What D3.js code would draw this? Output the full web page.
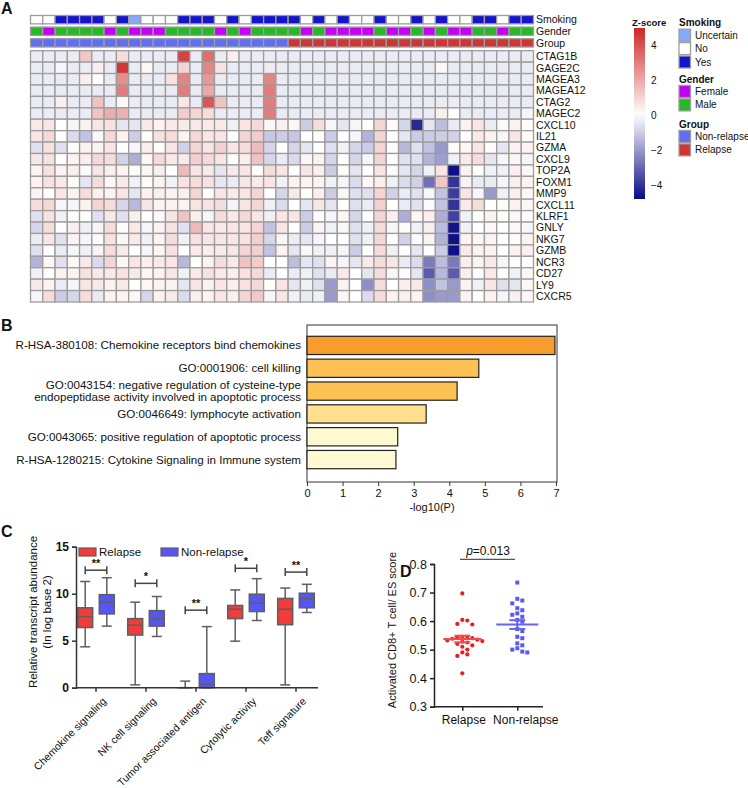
<!DOCTYPE html>
<html>
<head>
<meta charset="utf-8">
<script src="https://cdn.jsdelivr.net/npm/d3@7"></script>
<style>
  body { margin: 0; background: #fff; }
  text { font-family: "Liberation Sans", Arial, Helvetica, sans-serif; fill: #111; }
</style>
</head>
<body>
<div id="fig"></div>
<script>
// ---------- panel A data ----------
const genes = ["CTAG1B","GAGE2C","MAGEA3","MAGEA12","CTAG2","MAGEC2","CXCL10","IL21","GZMA","CXCL9",
  "TOP2A","FOXM1","MMP9","CXCL11","KLRF1","GNLY","NKG7","GZMB","NCR3","CD27","LY9","CXCR5"];
const annoNames = ["Smoking","Gender","Group"];
const smokingLevels = ["Uncertain","No","Yes"];
const genderLevels = ["Female","Male"];
const groupLevels = ["Non-relapse","Relapse"];
// one letter per sample (41 samples)
const smoking = "NNYYYYNYUNNNYYYNYNYYYYNYNYNNYNNYNYNNYYNYY".split("").map(c => ({N:"No",Y:"Yes",U:"Uncertain"})[c]);
const gender  = "MFMMMMFMFFFMMMMFMFMMMMFMFFFFMFFMFMFFMMFMM".split("").map(c => c === "F" ? "Female" : "Male");
const group   = "NNNNNNNNNNNNNNNNNNNNNRRRRRRRRRRRRRRRRRRRR".split("").map(c => c === "N" ? "Non-relapse" : "Relapse");

// z-scores, one row per gene, 41 samples
const zRows = [
  [-.4,-.4,-.4,-.4,1.3,-.4,-.4,.8,-.4,-.4, -.4,-.4,4.3,-.4,3.3,-.4,.4,-.4,-.4,-.4, -.4,-.4,-.4,-.4,-.4,-.4,-.4,-.4,-.4,-.4, -.4,-.4,-.4,-.4,-.4,-.4,-.4,-.4,-.4,-.4, -.4],
  [-.4,-.4,-.2,-.4,-.4,.4,-.4,4.6,-.4,.2, -.4,-.4,1.0,-.4,2.8,.7,-.4,-.4,-.4,-.4, -.4,-.4,-.4,-.4,-.4,-.4,-.4,-.4,-.4,-.4, -.4,-.4,-.4,.2,-.4,-.4,-.4,-.4,-.4,-.4, -.4],
  [-.4,-.4,-.4,-.4,.4,0,-.4,2.6,-.4,-.4, -.4,.7,2.8,-.4,2.4,-.4,-.4,-.4,-.4,2.8, -.4,-.4,-.4,-.4,-.4,-.4,-.4,-.4,-.4,-.4, -.4,-.4,-.4,-.4,-.4,-.4,-.4,-.4,-.4,-.4, -.4],
  [-.4,-.4,-.4,-.4,-.4,-.4,-.4,3.0,-.4,-.4, -.4,-.4,3.0,-.4,2.0,-.4,-.4,-.4,-.4,3.0, -.4,-.4,-.4,-.4,-.4,-.4,-.4,-.4,-.4,-.4, -.4,-.4,-.4,-.4,-.4,-.4,-.4,-.4,-.4,-.4, -.4],
  [-.4,-.4,.4,-.4,-.4,1.4,-.4,.2,-.4,-.4, -.4,-.4,.6,-.4,3.9,1.4,-.4,-.4,-.4,3.0, -.4,-.4,-.4,-.4,-.4,-.4,-.4,-.4,-.4,-.4, -.4,-.4,-.4,-.4,-.4,-.4,-.4,-.4,-.4,-.4, -.4],
  [-.4,-.4,-.4,-.4,-.4,1.4,1.9,1.8,-.4,-.4, -.4,-.4,1.2,1.0,.8,-.4,-.4,-.4,-.4,3.0, -.4,-.4,-.4,-.4,-.4,-.4,-.4,-.4,-.4,-.4, -.4,-.4,-.4,.4,0,-.4,-.4,-.4,-.4,-.4, -.2],
  [.5,.6,0,-.2,.3,.6,.7,-.5,-.5,.5, .3,.5,.5,.5,.5,.5,-.3,.6,.9,.2, .4,.2,-1.0,.8,-.2,-.5,-.2,0,1.0,.1, -.8,-4.2,-.5,-1.3,-.4,.3,.6,-.4,-.1,.3, .1],
  [.6,.9,0,-.7,-1.2,.2,.9,.3,-1.0,0, .7,.8,.3,.9,.6,.6,0,1.0,1.2,-1.1, -1.0,-1.1,0,0,-1.0,0,-.2,-1.5,1.0,0, -.5,-1.0,-1.0,-1.0,-.9,0,.5,.3,-.2,.6, .1],
  [-.6,.7,-.6,.1,.3,.3,.6,0,-.2,.4, .1,.6,-.9,1.0,.6,1.1,.6,.8,1.6,-.8, 0,-.8,-.5,0,-.6,-.3,-.8,-1.0,1.0,.1, -1.4,-.6,-1.2,-2.0,.1,.2,.6,.1,-.5,.3, .3],
  [.6,.7,0,.3,.4,.9,.8,-.9,-1.6,.2, .9,.5,.5,1.1,.9,.6,0,.4,1.4,-.8, -.4,-.7,.2,.3,-.8,0,-.8,-.2,1.0,0, -.6,-.6,-1.5,-1.9,-.3,.5,.8,-.5,-.2,.2, -.2],
  [.3,.7,.3,.4,-.1,.6,.4,.3,.1,.2, .4,0,1.6,.6,.5,-.5,.5,.6,0,.8, .6,0,.6,.4,-1.0,.1,-.5,0,.6,.1, -.5,-.8,-.3,.6,-4.7,.3,0,-.3,-.3,.4, .2],
  [.3,.7,.5,.1,-.5,.8,.2,.5,-.3,.1, .3,-.3,.7,.8,.7,-.5,-.4,.6,.5,.6, -.3,.3,.3,.3,-.3,-.2,-.7,.2,.4,-.3, -.7,-.9,-2.8,1.3,-4.0,.3,-.4,-.4,-.2,.4, .3],
  [.3,0,.6,.3,.8,.4,.3,.6,-.5,.3, .4,.3,.4,1.0,0,.6,.5,.6,1.0,0, -.8,.5,0,.4,-1.0,.2,-.6,-.6,1.0,-.9, -.4,-.6,-.2,-1.2,-3.8,.6,-.2,-2.0,-.3,.4, .2],
  [.8,.9,-.2,-.2,.3,1.0,.8,-.8,-1.4,.6, .3,.3,.3,.6,.7,.8,-.2,.6,1.0,-.3, -.7,0,-.5,.6,-.5,0,-.6,-.4,1.1,0, -.4,-.6,-.1,-1.2,-4.0,.5,.8,0,.1,.3, .2],
  [-.6,.7,-.3,.1,0,-.6,.5,-.6,.4,0, -.1,.6,1.4,.4,-.2,.8,.5,.9,.6,-.3, .6,.6,-1.0,0,-.2,.2,-.8,0,1.0,.4, -1.6,.2,.4,-1.6,-3.7,-.3,0,.3,.1,.2, .1],
  [-.8,.8,0,.4,-.3,-.2,.8,.1,.5,-.2, .3,.7,-.6,1.6,.6,.5,.6,.6,1.0,-1.2, .6,0,-1.0,.3,-.3,.2,-.6,-.3,.8,-.2, .1,-.3,.4,-1.3,-4.6,-.3,0,.2,0,.2, -.2],
  [-.4,.6,-.6,.3,-.2,.1,.7,.2,.5,-.3, .3,.8,-.3,.7,.6,.6,.6,.7,1.1,-.8, -.2,-.4,-.5,-.2,0,0,-.6,-.3,.9,0, -.9,-.1,.3,-1.5,-4.7,.3,.2,.3,0,.1, .3],
  [-.6,0,-.4,-.2,-.3,.3,.8,.5,0,-.2, .2,.7,0,.5,.4,.5,.6,1.0,1.1,-1.2, .3,-.5,.2,-.3,-.3,-.2,-1.0,0,.8,-.3, 0,-.5,0,-1.0,-4.7,.5,.3,.3,0,.3, .4],
  [-1.5,.2,-.6,.2,.5,-.7,1.0,.2,.6,.4, .5,.6,-1.4,0,.3,.8,.5,1.4,1.2,0, 0,-1.3,-.5,-.6,.3,-.2,-.5,.5,.8,.6, -.4,-.7,-2.6,-1.3,-2.6,.4,.3,.5,-.2,.1, .1],
  [-.3,0,.3,.3,.7,.5,.5,.7,.5,.2, .3,.6,-.3,.5,.7,.5,.4,.7,.9,-.4, 0,-.4,-.3,-.6,-.4,.5,0,-.5,.8,-.2, .1,-.5,-3.2,-1.4,-3.2,.4,0,.5,.1,-.3, .2],
  [.5,.3,-.4,-.2,.6,.5,.3,.5,0,.2, .3,.3,-.5,.6,.3,.6,.4,.7,.9,0, .6,-.5,-.3,-.6,-2.0,.3,0,-2.2,.8,0, .4,.5,-2.2,-1.2,-2.0,.3,-.3,.6,-.6,-.5, .2],
  [-.2,.8,-1.0,-.8,.8,-.4,.3,.3,.2,-.8, .3,.5,-.7,.4,.3,.6,.4,1.0,1.3,-.2, .6,-.3,-.4,-.3,-2.0,.2,0,-.7,.8,.3, .4,.3,-2.2,-2.0,-2.0,.3,0,.3,-.2,.4, .2]
];

// ---------- panel B data ----------
const terms = [
  "R-HSA-380108: Chemokine receptors bind chemokines",
  "GO:0001906: cell killing",
  "GO:0043154: negative regulation of cysteine-type|endopeptidase activity involved in apoptotic process",
  "GO:0046649: lymphocyte activation",
  "GO:0043065: positive regulation of apoptotic process",
  "R-HSA-1280215: Cytokine Signaling in Immune system"
];
const logP = [6.97, 4.83, 4.22, 3.35, 2.55, 2.5];
const termColors = ["#F89C2E", "#FCC152", "#FCC152", "#FEE08E", "#FEF9D0", "#FEF9D0"];

// ---------- panel C data ----------
const signatures = ["Chemokine signaling","NK cell signaling","Tumor associated antigen","Cytolytic activity","Teff signature"];
// [min, q1, median, q3, max]
const relapseBox    = [[4.35,6.4,7.55,8.5,11.3],[0.3,5.6,6.65,7.35,9.1],[0,0,0,0,0.7],[4.95,7.35,8.35,8.75,10.4],[0.3,6.7,8.35,9.5,10.6]];
const nonRelapseBox = [[6.55,7.85,9.1,9.9,11.7],[5.45,6.55,7.35,8.2,9.7],[0,0,0.35,1.5,6.5],[7.15,8.1,9.0,9.95,11.6],[8.0,8.5,9.5,10.05,11.0]];
const sigStars = ["**","*","**","*","**"];
const sigLevel = [12.5, 11.1, 8.25, 12.7, 12.3];

// ---------- panel D data ----------
const relapseScore = [0.697,0.604,0.602,0.590,0.588,0.545,0.545,0.543,0.540,0.538,0.535,0.532,0.530,
  0.528,0.525,0.520,0.515,0.510,0.500,0.490,0.483,0.478,0.417];
const nonRelapseScore = [0.735,0.678,0.672,0.662,0.645,0.638,0.627,0.622,0.615,0.604,0.598,0.572,0.565,
  0.545,0.540,0.522,0.515,0.505,0.500,0.493,0.490];
const pText = "=0.013";

// =====================================================
const svg = d3.select("#fig").append("svg").attr("width", 748).attr("height", 788);
const defs = svg.append("defs");

// panel letters
[["A",1,14],["B",1,331],["C",1,537],["D",400,577]].forEach(([t,x,y]) =>
  svg.append("text").attr("x",x).attr("y",y).attr("font-size",16).attr("font-weight","bold").text(t));

// ---------- A: heatmap ----------
const hx = d3.scaleBand().domain(d3.range(smoking.length)).range([30.5, 533.5]);
const hy = d3.scaleBand().domain(genes).range([50.7, 302]);
const ay = d3.scaleBand().domain(annoNames).range([15.5, 47]).paddingInner(0.28);
const zColor = d3.scaleLinear().domain([-5, 0, 5]).range(["#000080", "#ffffff", "#cd2626"]);
const annoColor = {
  Smoking: d3.scaleOrdinal().domain(smokingLevels).range(["#86A9F8", "#ffffff", "#1414CC"]),
  Gender:  d3.scaleOrdinal().domain(genderLevels).range(["#C200F2", "#27B827"]),
  Group:   d3.scaleOrdinal().domain(groupLevels).range(["#5E6EF6", "#D23434"])
};
const annoData = { Smoking: smoking, Gender: gender, Group: group };
const gridStroke = "#9d9d9d";

const heat = svg.append("g");
annoNames.forEach(name => {
  heat.append("g").selectAll("rect").data(annoData[name]).join("rect")
    .attr("x", (d, i) => hx(i)).attr("y", ay(name))
    .attr("width", hx.bandwidth()).attr("height", ay.bandwidth())
    .attr("fill", d => annoColor[name](d))
    .attr("stroke", gridStroke).attr("stroke-width", 1.3);
  heat.append("text").attr("x", 536).attr("y", ay(name) + ay.bandwidth() / 2)
    .attr("dy", "0.35em").attr("font-size", 10.5).text(name);
});

const cells = genes.flatMap((g, i) => zRows[i].map((v, j) => ({ g, j, v })));
heat.append("g").selectAll("rect").data(cells).join("rect")
  .attr("x", d => hx(d.j)).attr("y", d => hy(d.g))
  .attr("width", hx.bandwidth()).attr("height", hy.bandwidth())
  .attr("fill", d => zColor(d.v))
  .attr("stroke", gridStroke).attr("stroke-width", 1.3);
heat.append("g").selectAll("text").data(genes).join("text")
  .attr("x", 536).attr("y", d => hy(d) + hy.bandwidth() / 2)
  .attr("dy", "0.35em").attr("font-size", 10.5).text(d => d);

// z-score colour bar
const legTop = 28, legBot = 199;
const ly = d3.scaleLinear().domain([-5, 5]).range([202.5, 27.5]);
const grad = defs.append("linearGradient").attr("id", "zgrad")
  .attr("x1", 0).attr("y1", 0).attr("x2", 0).attr("y2", 1);
d3.range(0, 1.0001, 0.05).forEach(o =>
  grad.append("stop").attr("offset", o).attr("stop-color", zColor(ly.invert(legTop + o * (legBot - legTop)))));
svg.append("text").attr("x", 632).attr("y", 25.5).attr("font-size", 9.5).attr("font-weight", "bold").text("Z-score");
svg.append("rect").attr("x", 634).attr("y", legTop).attr("width", 11).attr("height", legBot - legTop)
  .attr("fill", "url(#zgrad)");
svg.append("g").selectAll("text").data([4, 2, 0, -2, -4]).join("text")
  .attr("x", 651).attr("y", d => ly(d)).attr("dy", "0.35em").attr("font-size", 10)
  .text(d => d < 0 ? "\u2212" + Math.abs(d) : d);

// annotation legend
const legBlocks = [
  { title: "Smoking", y: 22.7, levels: smokingLevels },
  { title: "Gender", y: 79, levels: genderLevels },
  { title: "Group", y: 124, levels: groupLevels }
];
legBlocks.forEach(b => {
  const g = svg.append("g");
  g.append("text").attr("x", 679).attr("y", b.y).attr("dy", "0.35em")
    .attr("font-size", 10).attr("font-weight", "bold").text(b.title);
  b.levels.forEach((lv, i) => {
    const y0 = b.y + 6.5 + i * 13.4;
    g.append("rect").attr("x", 679).attr("y", y0).attr("width", 11.5).attr("height", 12)
      .attr("fill", annoColor[b.title](lv)).attr("stroke", gridStroke).attr("stroke-width", 1.3);
    g.append("text").attr("x", 695).attr("y", y0 + 6).attr("dy", "0.35em").attr("font-size", 10).text(lv);
  });
});

// ---------- B: enrichment bars ----------
const bx = d3.scaleLinear().domain([0, 7]).range([307, 556]);
const by = d3.scaleBand().domain(terms).range([334, 471]).paddingInner(0.2).paddingOuter(0.1);
const gB = svg.append("g");
gB.append("rect").attr("x", 307).attr("y", 325).attr("width", 250).attr("height", 157)
  .attr("fill", "none").attr("stroke", "#555").attr("stroke-width", 1.2);
gB.selectAll("rect.bar").data(terms).join("rect").attr("class", "bar")
  .attr("x", bx(0)).attr("y", d => by(d))
  .attr("width", (d, i) => bx(logP[i]) - bx(0)).attr("height", by.bandwidth())
  .attr("fill", (d, i) => termColors[i]).attr("stroke", "#222").attr("stroke-width", 1.2);
terms.forEach(t => {
  const lines = t.split("|");
  const cy0 = by(t) + by.bandwidth() / 2 - (lines.length - 1) * 6;
  lines.forEach((ln, k) => gB.append("text").attr("x", 301).attr("y", cy0 + k * 12)
    .attr("dy", "0.35em").attr("text-anchor", "end").attr("font-size", 11.6).text(ln));
});
const axB = gB.append("g").attr("transform", "translate(0,482)")
  .call(d3.axisBottom(bx).ticks(7).tickSize(4).tickPadding(3));
axB.select(".domain").remove();
axB.selectAll("text").attr("font-size", 11).attr("font-family", null);
axB.selectAll("line").attr("stroke", "#333");
gB.append("text").attr("x", 432).attr("y", 511).attr("text-anchor", "middle").attr("font-size", 11).text("-log10(P)");

// ---------- C: box plots ----------
const cyS = d3.scaleLinear().domain([0, 15]).range([687.7, 546.7]);
const cxG = d3.scaleBand().domain(signatures).range([71, 321]);
const cxS = d3.scalePoint().domain(groupLevels.slice().reverse()).range([-10.8, 10.8]); // Relapse left
const boxFill = { "Relapse": "#F23B3B", "Non-relapse": "#5656F4" };
const gC = svg.append("g");
const boxW = 15, capW = 10, boxStroke = "#5f5f5f";

function drawBox(stats, sig, grp) {
  const cx = cxG(sig) + cxG.bandwidth() / 2 + cxS(grp);
  const [mn, q1, md, q3, mx] = stats;
  const g = gC.append("g").attr("stroke", boxStroke).attr("stroke-width", 1.5);
  g.append("line").attr("x1", cx).attr("x2", cx).attr("y1", cyS(mx)).attr("y2", cyS(q3));
  g.append("line").attr("x1", cx).attr("x2", cx).attr("y1", cyS(q1)).attr("y2", cyS(mn));
  [mn, mx].forEach(v => g.append("line").attr("x1", cx - capW / 2).attr("x2", cx + capW / 2)
    .attr("y1", cyS(v)).attr("y2", cyS(v)));
  g.append("rect").attr("x", cx - boxW / 2).attr("y", cyS(q3)).attr("width", boxW)
    .attr("height", Math.max(0, cyS(q1) - cyS(q3))).attr("fill", boxFill[grp]);
  g.append("line").attr("x1", cx - boxW / 2).attr("x2", cx + boxW / 2).attr("y1", cyS(md)).attr("y2", cyS(md));
}
signatures.forEach((s, i) => {
  drawBox(relapseBox[i], s, "Relapse");
  drawBox(nonRelapseBox[i], s, "Non-relapse");
  const x1 = cxG(s) + cxG.bandwidth() / 2 + cxS("Relapse");
  const x2 = cxG(s) + cxG.bandwidth() / 2 + cxS("Non-relapse");
  const yb = cyS(sigLevel[i]);
  const br = gC.append("g").attr("stroke", "#444").attr("stroke-width", 1.5);
  br.append("line").attr("x1", x1).attr("x2", x2).attr("y1", yb).attr("y2", yb);
  [x1, x2].forEach(x => br.append("line").attr("x1", x).attr("x2", x).attr("y1", yb - 4).attr("y2", yb + 4));
  gC.append("text").attr("x", (x1 + x2) / 2).attr("y", yb - 3).attr("text-anchor", "middle")
    .attr("font-size", 11).attr("font-weight", "bold").text(sigStars[i]);
});
const axCy = gC.append("g").attr("transform", "translate(76,0)")
  .call(d3.axisLeft(cyS).tickValues([0, 5, 10, 15]).tickSize(4).tickPadding(3));
axCy.selectAll("text").attr("font-size", 12).attr("font-weight", "bold").attr("font-family", null);
axCy.selectAll("line,path").attr("stroke", "#333").attr("stroke-width", 1.5);
const axCx = gC.append("g").attr("transform", "translate(0,687.7)")
  .call(d3.axisBottom(cxG).tickSize(4).tickSizeOuter(0));
axCx.select(".domain").attr("d", "M76,0H318").attr("stroke", "#333").attr("stroke-width", 1.5);
axCx.selectAll("line").attr("stroke", "#333").attr("stroke-width", 1.5);
axCx.selectAll("text").attr("font-size", 10.5).attr("font-family", null)
  .attr("text-anchor", "end").attr("dx", 0).attr("dy", 0)
  .attr("transform", "translate(6,9.3) rotate(-45)");
const yTitle = gC.append("text").attr("transform", "translate(37,612) rotate(-90)")
  .attr("text-anchor", "middle").attr("font-size", 11.5);
yTitle.append("tspan").attr("x", 0).attr("dy", 0).text("Relative transcript abundance");
yTitle.append("tspan").attr("x", 0).attr("dy", 14).text("(In log base 2)");
// legend
[["Relapse", 79], ["Non-relapse", 161]].forEach(([k, x]) => {
  gC.append("rect").attr("x", x).attr("y", 548).attr("width", 17).attr("height", 8)
    .attr("fill", boxFill[k]).attr("stroke", boxStroke).attr("stroke-width", 1.2);
  gC.append("text").attr("x", x + 20).attr("y", 552).attr("dy", "0.35em").attr("font-size", 11.5).text(k);
});

// ---------- D: dot plot ----------
const dyS = d3.scaleLinear().domain([0.3, 0.8]).range([706.7, 564]);
const dxS = d3.scalePoint().domain(groupLevels.slice().reverse()).range([462.3, 517.3]);
const gD = svg.append("g");
const dotColor = { "Relapse": "#EE1C24", "Non-relapse": "#5A5AF2" };
const lineColor = { "Relapse": "#F44A4A", "Non-relapse": "#6464F6" };

function swarm(values) {
  const placed = [];
  values.slice().sort((a, b) => b - a).forEach(v => {
    const py = dyS(v);
    for (let k = 0; k < 40; k++) {
      const off = k === 0 ? 0 : (k % 2 ? 1 : -1) * Math.ceil(k / 2) * 5;
      if (placed.every(q => Math.hypot(q.x - off, q.y - py) >= 4.8)) { placed.push({ x: off, y: py }); break; }
    }
  });
  return placed;
}
[["Relapse", relapseScore], ["Non-relapse", nonRelapseScore]].forEach(([k, vals]) => {
  const cx = dxS(k);
  const pts = swarm(vals);
  if (k === "Relapse") {
    gD.append("g").selectAll("circle").data(pts).join("circle")
      .attr("cx", d => cx + d.x).attr("cy", d => d.y).attr("r", 2.1).attr("fill", dotColor[k]);
  } else {
    gD.append("g").selectAll("rect").data(pts).join("rect")
      .attr("x", d => cx + d.x - 2).attr("y", d => d.y - 2).attr("width", 4).attr("height", 4).attr("fill", dotColor[k]);
  }
  const m = d3.mean(vals), sem = d3.deviation(vals) / Math.sqrt(vals.length);
  const g = gD.append("g").attr("stroke", lineColor[k]).attr("stroke-width", 2);
  const hw = k === "Relapse" ? 19 : 21;
  g.append("line").attr("x1", cx - hw).attr("x2", cx + hw).attr("y1", dyS(m)).attr("y2", dyS(m));
  g.append("line").attr("x1", cx).attr("x2", cx).attr("y1", dyS(m - sem)).attr("y2", dyS(m + sem));
  [m - sem, m + sem].forEach(v => g.append("line").attr("x1", cx - 8).attr("x2", cx + 8)
    .attr("y1", dyS(v)).attr("y2", dyS(v)));
});
const axDy = gD.append("g").attr("transform", "translate(434,0)")
  .call(d3.axisLeft(dyS).tickValues([0.3, 0.4, 0.5, 0.6, 0.7, 0.8]).tickFormat(d3.format(".1f")).tickSize(4).tickPadding(3));
axDy.selectAll("text").attr("font-size", 12.5).attr("font-family", null);
axDy.selectAll("line,path").attr("stroke", "#222").attr("stroke-width", 1.5);
const axDx = gD.append("g").attr("transform", "translate(0,706.7)")
  .call(d3.axisBottom(dxS).tickSize(4).tickPadding(5));
axDx.select(".domain").attr("d", "M434,0H543").attr("stroke", "#222").attr("stroke-width", 1.5);
axDx.selectAll("line").attr("stroke", "#222").attr("stroke-width", 1.5);
axDx.selectAll("text").attr("font-size", 12).attr("font-family", null)
  .attr("dx", d => d === "Non-relapse" ? 8 : 1);
gD.append("text").attr("transform", "translate(396,630) rotate(-90)").attr("text-anchor", "middle")
  .attr("font-size", 11).text("Activated CD8+ T cell/ ES score");
gD.append("line").attr("x1", 460).attr("x2", 515).attr("y1", 559.3).attr("y2", 559.3)
  .attr("stroke", "#555").attr("stroke-width", 1.3);
const pt = gD.append("text").attr("x", 488).attr("y", 555).attr("text-anchor", "middle").attr("font-size", 12);
pt.append("tspan").attr("font-style", "italic").text("p");
pt.append("tspan").text(pText);
</script>
</body>
</html>
